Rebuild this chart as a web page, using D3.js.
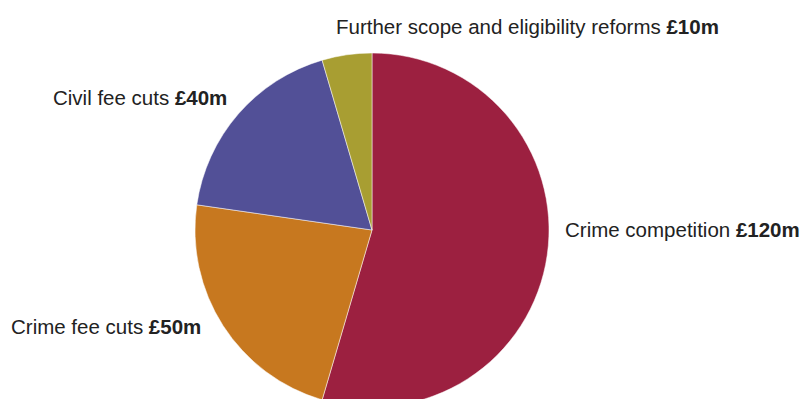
<!DOCTYPE html>
<html>
<head>
<meta charset="utf-8">
<script src="https://cdn.jsdelivr.net/npm/d3@7/dist/d3.min.js"></script>
<style>
  html, body { margin: 0; padding: 0; background: #fff; }
  svg { display: block; }
  text { font-family: "Liberation Sans", Arial, sans-serif; font-size: 20.5px; fill: #222; }
</style>
</head>
<body>
<svg id="chart" width="804" height="399"></svg>
<script>
// Legal aid savings by source (£m)
const categories = ["Crime competition", "Crime fee cuts", "Civil fee cuts", "Further scope and eligibility reforms"];
const values = [120, 50, 40, 10];
const valueLabels = ["£120m", "£50m", "£40m", "£10m"];
const colors = ["#9C2040", "#C7781F", "#525097", "#A89E32"];

// label placement: x, baseline y, anchor
const labelPos = [
  [565, 236.5, "start"],
  [11, 334, "start"],
  [53, 105, "start"],
  [336, 33.5, "start"]
];

const svg = d3.select("#chart");
const cx = 372, cy = 230, radius = 177;

const pie = d3.pie().sort(null).value(d => d.value);
const data = categories.map((c, i) => ({ name: c, value: values[i], label: valueLabels[i], color: colors[i] }));
const arcs = pie(data);
const arc = d3.arc().innerRadius(0).outerRadius(radius);

const g = svg.append("g").attr("transform", `translate(${cx},${cy})`);
g.selectAll("path")
  .data(arcs)
  .join("path")
  .attr("d", arc)
  .attr("fill", d => d.data.color)
  .attr("stroke", "#fff")
  .attr("stroke-width", 0.5);

const labels = svg.selectAll("text.lbl")
  .data(data)
  .join("text")
  .attr("class", "lbl")
  .attr("x", (d, i) => labelPos[i][0])
  .attr("y", (d, i) => labelPos[i][1])
  .attr("text-anchor", (d, i) => labelPos[i][2]);
labels.append("tspan").text(d => d.name + " ");
labels.append("tspan").attr("font-weight", "bold").text(d => d.label);
</script>
</body>
</html>
